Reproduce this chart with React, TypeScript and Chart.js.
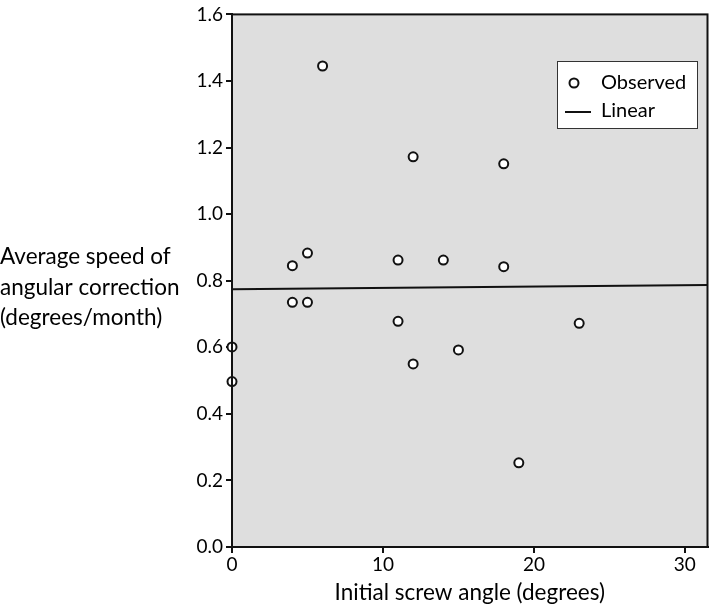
import React, { useEffect, useRef } from "react";
import { Chart, registerables } from "chart.js";

Chart.register(...registerables);

const observedX = [6, 12, 18, 5, 4, 11, 14, 18, 4, 5, 11, 23, 15, 12, 0, 0, 19];
const observedY = [1.445, 1.172, 1.151, 0.883, 0.845, 0.862, 0.862, 0.842, 0.735, 0.735, 0.678, 0.672, 0.592, 0.55, 0.601, 0.497, 0.253];
const linearX = [0, 31.5];
const linearY = [0.774, 0.787];
const xTicks = [0, 10, 20, 30];
const yTicks = [0, 0.2, 0.4, 0.6, 0.8, 1.0, 1.2, 1.4, 1.6];
const xTitle = "Initial screw angle (degrees)";
const yTitleLines = ["Average speed of", "angular correction", "(degrees/month)"];
const legendLabels = ["Observed", "Linear"];

const FONT = "Lato, 'Open Sans', sans-serif";

export default function App() {
  const ref = useRef<HTMLCanvasElement | null>(null);
  useEffect(() => {
    if (!ref.current) return;
    const decor = {
      id: "decor",
      beforeDraw(chart: any) {
        const { ctx, chartArea: a } = chart;
        ctx.save();
        ctx.fillStyle = "#dedede";
        ctx.fillRect(a.left, a.top, a.right - a.left, a.bottom - a.top);
        ctx.restore();
      },
      afterDatasetsDraw(chart: any) {
        const { ctx, chartArea: a } = chart;
        ctx.save();
        ctx.strokeStyle = "#111";
        ctx.lineWidth = 2;
        ctx.strokeRect(a.left, a.top, a.right - a.left, a.bottom - a.top);
        // legend
        const lx = 557, ly = 61, lw = 140, lh = 67;
        ctx.fillStyle = "#fff";
        ctx.fillRect(lx, ly, lw, lh);
        ctx.lineWidth = 1;
        ctx.strokeStyle = "#333";
        ctx.strokeRect(lx + 0.5, ly + 0.5, lw, lh);
        ctx.beginPath();
        ctx.arc(574, 83, 4.5, 0, Math.PI * 2);
        ctx.fillStyle = "#fff";
        ctx.fill();
        ctx.lineWidth = 2;
        ctx.strokeStyle = "#111";
        ctx.stroke();
        ctx.beginPath();
        ctx.moveTo(565, 112);
        ctx.lineTo(591, 112);
        ctx.stroke();
        ctx.fillStyle = "#000";
        ctx.font = `20px ${FONT}`;
        ctx.textBaseline = "middle";
        ctx.textAlign = "left";
        ctx.fillText(legendLabels[0], 601, 83);
        ctx.fillText(legendLabels[1], 601, 111);
        // titles
        ctx.font = `22.5px ${FONT}`;
        ctx.textAlign = "center";
        ctx.fillText(xTitle, (a.left + a.right) / 2, 593);
        ctx.textAlign = "left";
        yTitleLines.forEach((t, i) => ctx.fillText(t, 0, 257 + i * 30.5));
        ctx.restore();
      },
    };
    const chart = new Chart(ref.current, {
      type: "scatter",
      data: {
        datasets: [
          {
            type: "line",
            label: legendLabels[1],
            data: linearX.map((x, i) => ({ x, y: linearY[i] })),
            borderColor: "#111",
            borderWidth: 2,
            pointRadius: 0,
          } as any,
          {
            label: legendLabels[0],
            data: observedX.map((x, i) => ({ x, y: observedY[i] })),
            pointRadius: 4.5,
            pointBorderWidth: 2,
            pointBackgroundColor: "#fff",
            pointBorderColor: "#111",
            clip: false,
          },
        ],
      },
      options: {
        animation: false,
        responsive: false,
        layout: { padding: { top: 9, right: 4, left: 0, bottom: 0 } },
        plugins: { legend: { display: false }, tooltip: { enabled: false } },
        scales: {
          x: {
            type: "linear",
            min: 0,
            max: 31.5,
            afterBuildTicks: (s: any) => { s.ticks = xTicks.map((v) => ({ value: v })); },
            afterFit: (s: any) => { s.height = 58; },
            grid: { drawOnChartArea: false, drawTicks: true, tickLength: 6, color: "#111", lineWidth: 2 },
            border: { display: true, color: "#111", width: 2 },
            ticks: { color: "#000", font: { family: FONT, size: 19 }, padding: 0, maxRotation: 0, callback: (v: any) => String(v) },
          },
          y: {
            type: "linear",
            min: 0,
            max: 1.6,
            afterBuildTicks: (s: any) => { s.ticks = yTicks.map((v) => ({ value: v })); },
            afterFit: (s: any) => { s.width = 232; },
            grid: { drawOnChartArea: false, drawTicks: true, tickLength: 6, color: "#111", lineWidth: 2 },
            border: { display: true, color: "#111", width: 2 },
            ticks: { color: "#000", font: { family: FONT, size: 19 }, padding: 3, callback: (v: any) => Number(v).toFixed(1) },
          },
        },
      },
      plugins: [decor],
    } as any);
    return () => chart.destroy();
  }, []);
  return (
    <div style={{ position: "absolute", left: 0, top: 0, width: 714, height: 605, background: "#fff" }}>
      <canvas ref={ref} width={714} height={605} style={{ display: "block" }} />
    </div>
  );
}
